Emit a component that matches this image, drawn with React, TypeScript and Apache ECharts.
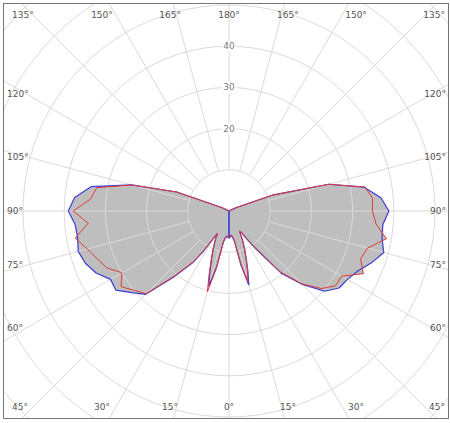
import React, { useEffect, useRef } from "react";
import * as echarts from "echarts";

// Gamma angles (0 = nadir, 180 = zenith), degrees
const ANGLES = [0, 2.5, 5, 7.5, 10, 12.5, 15, 17.5, 20, 22.5, 25, 27.5, 30, 32.5, 35, 40, 45, 50, 55, 60, 65, 70, 75, 80, 85, 90, 95, 100, 105, 110, 115, 120, 135, 150, 165, 180];

// Blue plane (C180 on the left, C0 on the right)
const BLUE_LEFT = [6.6, 6.4, 6.2, 6.6, 7.5, 14, 18.9, 15.5, 12.4, 10, 8, 6.2, 8, 11.7, 15.3, 21, 28.6, 30.8, 33.5, 33.2, 35.6, 37.1, 37.9, 37.3, 37.5, 39.0, 37.6, 34.0, 24.5, 13.5, 2.0, 0.3, 0.2, 0.1, 0.1, 0];
const BLUE_RIGHT = [6.6, 6.3, 6.0, 6.4, 7.3, 13.5, 18.6, 15.2, 12.2, 9.8, 7.8, 5.6, 6.0, 8.0, 10.8, 19.7, 25.2, 30.3, 32.6, 33.2, 34.5, 36.8, 38.9, 37.7, 37.5, 38.8, 37.0, 33.3, 25.1, 11.5, 2.0, 0.3, 0.2, 0.1, 0.1, 0];
// Red plane (C270 on the left, C90 on the right)
const RED_LEFT = [6.4, 6.2, 6.0, 6.4, 7.3, 14.5, 20.3, 16, 12.6, 10.2, 8.2, 6.1, 7.8, 11.5, 15.0, 20.6, 28.4, 30.0, 32.0, 30.0, 32.7, 34.0, 35.6, 37.9, 34.3, 37.8, 33.7, 32.6, 24.4, 13.4, 2.0, 0.3, 0.2, 0.1, 0.1, 0];
const RED_RIGHT = [6.4, 6.1, 5.8, 6.2, 7.1, 13, 17.8, 14.8, 12, 9.6, 7.6, 5.5, 5.9, 7.8, 10.6, 19.3, 25.0, 29.3, 31.6, 31.6, 36.0, 34.0, 34.8, 38.8, 35.8, 34.8, 35.0, 33.5, 25.0, 11.4, 2.0, 0.3, 0.2, 0.1, 0.1, 0];

const ANGLE_TICKS = [0, 15, 30, 45, 60, 75, 90, 105, 120, 135, 150, 165, 180];
const RADIUS_LABELS = [20, 30, 40];

const R_MAX = 80;
const PX_PER_UNIT = 4.12;
const CX = 225;
const CY = 207;
const HX = 203;
const HY = 220;
const ROW_TOP = 11;
const ROW_BOTTOM = 403;
const COL_LEFT = 3;
const COL_RIGHT = 442;

const FONT = '"DejaVu Sans", Verdana, sans-serif';
const BLUE = "#3c3cd6";
const RED = "#e03a3a";
const FILL = "#bebebe";
const GRID = "#dadada";

function toLeft(values: number[], closeAtOrigin: boolean) {
  const pts = values.map((v, i) => [v, ANGLES[i]]);
  return closeAtOrigin ? [[0, 0], ...pts] : pts;
}
function toRight(values: number[], closeAtOrigin: boolean) {
  const pts = values.map((v, i) => [v, (360 - ANGLES[i]) % 360]);
  return closeAtOrigin ? [[0, 0], ...pts] : pts;
}

function anglePos(g: number, side: number) {
  const rad = (g * Math.PI) / 180;
  const dx = side * Math.sin(rad);
  const dy = Math.cos(rad);
  const tx = Math.abs(dx) < 1e-9 ? Infinity : HX / Math.abs(dx);
  const ty = Math.abs(dy) < 1e-9 ? Infinity : HY / Math.abs(dy);
  if (ty <= tx) {
    return { x: CX + dx * ty, y: dy > 0 ? ROW_BOTTOM : ROW_TOP, align: "center" };
  }
  const y = CY + dy * tx;
  const clamped = y < ROW_TOP || y > ROW_BOTTOM;
  const yy = Math.min(Math.max(y, ROW_TOP), ROW_BOTTOM);
  if (side < 0) return { x: clamped ? COL_LEFT + 5 : COL_LEFT, y: yy, align: "left" };
  return { x: clamped ? COL_RIGHT - 1 : COL_RIGHT, y: yy, align: "right" };
}

function fillSeries(data: number[][]) {
  return {
    type: "line",
    coordinateSystem: "polar",
    polarIndex: 1,
    data,
    symbol: "none",
    silent: true,
    lineStyle: { width: 0, opacity: 0 },
    areaStyle: { color: FILL, opacity: 1 },
    z: 1,
  };
}
function lineSeries(data: number[][], color: string, width: number, z: number) {
  return {
    type: "line",
    coordinateSystem: "polar",
    polarIndex: 1,
    data,
    symbol: "none",
    silent: true,
    lineStyle: { color, width },
    z,
  };
}

export default function App() {
  const ref = useRef<HTMLDivElement>(null);
  useEffect(() => {
    if (!ref.current) return;
    const chart = echarts.init(ref.current, undefined, { renderer: "svg" });

    const labels: any[] = [];
    ANGLE_TICKS.forEach((g) => {
      const sides = g === 0 || g === 180 ? [1] : [-1, 1];
      sides.forEach((s) => {
        const p = anglePos(g, s);
        labels.push({
          type: "text",
          x: p.x,
          y: p.y,
          z: 10,
          silent: true,
          style: {
            text: g + "°",
            fill: "#555",
            fontSize: 9,
            fontFamily: FONT,
            align: p.align,
            verticalAlign: "middle",
          },
        });
      });
    });

    const outer = R_MAX * PX_PER_UNIT;
    const option: any = {
      animation: false,
      polar: [
        { center: [CX, CY], radius: [10 * PX_PER_UNIT, outer] },
        { center: [CX, CY], radius: [0, outer] },
      ],
      angleAxis: [
        {
          polarIndex: 0,
          type: "value",
          min: 0,
          max: 360,
          interval: 15,
          startAngle: 90,
          axisLine: { show: false },
          axisTick: { show: false },
          axisLabel: { show: false },
          splitLine: { show: true, lineStyle: { color: GRID, width: 1 } },
          z: 3,
        },
        {
          polarIndex: 1,
          type: "value",
          min: 0,
          max: 360,
          startAngle: -90,
          clockwise: true,
          show: false,
        },
      ],
      radiusAxis: [
        {
          polarIndex: 0,
          type: "value",
          min: 10,
          max: R_MAX,
          interval: 10,
          axisLine: { show: false },
          axisTick: { show: false },
          axisLabel: { show: false },
          splitLine: { show: true, lineStyle: { color: GRID, width: 1 } },
          z: 3,
        },
        {
          polarIndex: 1,
          type: "value",
          min: 0,
          max: R_MAX,
          show: false,
        },
      ],
      series: [
        fillSeries(toLeft(BLUE_LEFT, true)),
        fillSeries(toLeft(RED_LEFT, false)),
        fillSeries(toRight(BLUE_RIGHT, true)),
        fillSeries(toRight(RED_RIGHT, false)),
        lineSeries(toLeft(BLUE_LEFT, true), BLUE, 1.2, 5),
        lineSeries(toRight(BLUE_RIGHT, true), BLUE, 1.2, 5),
        lineSeries(toLeft(RED_LEFT, false), RED, 1, 6),
        lineSeries(toRight(RED_RIGHT, false), RED, 1, 6),
        {
          type: "scatter",
          coordinateSystem: "polar",
          polarIndex: 1,
          data: RADIUS_LABELS.map((v) => [v, 180]),
          symbolSize: 1,
          itemStyle: { color: "rgba(0,0,0,0)" },
          silent: true,
          z: 7,
          label: {
            show: true,
            position: "inside",
            formatter: (p: any) => String(p.value[0]),
            color: "#555",
            fontSize: 9,
            fontFamily: FONT,
            backgroundColor: "#fff",
            padding: [1, 2],
          },
        },
      ],
      graphic: labels,
    };
    chart.setOption(option);
    return () => chart.dispose();
  }, []);

  return (
    <div
      style={{
        position: "absolute",
        left: 3,
        top: 3,
        width: 446,
        height: 416,
        border: "1px solid #777",
        boxSizing: "border-box",
        overflow: "hidden",
        background: "#fff",
      }}
    >
      <div ref={ref} style={{ width: 444, height: 414 }} />
    </div>
  );
}
